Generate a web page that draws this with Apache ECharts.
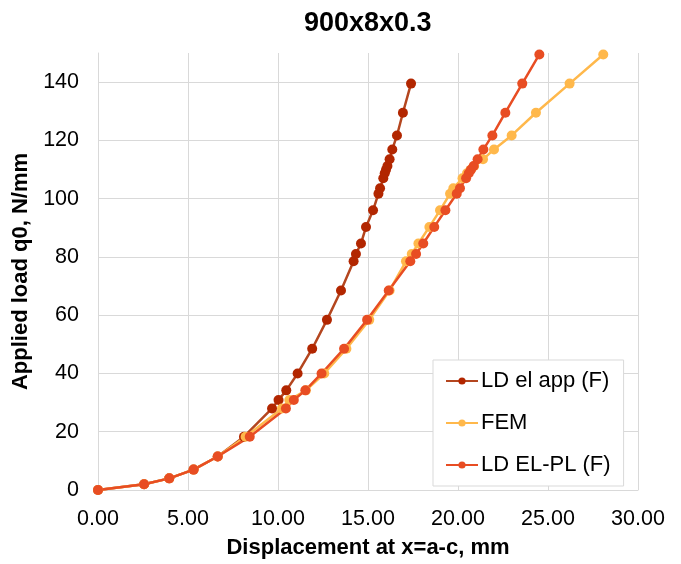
<!DOCTYPE html>
<html>
<head>
<meta charset="utf-8">
<script src="https://cdn.jsdelivr.net/npm/echarts@6/dist/echarts.min.js"></script>
<style>
html,body{margin:0;padding:0;background:#fff;}
#c{width:681px;height:564px;}
</style>
</head>
<body>
<div id="c"></div>
<script>
// Applied load q0 (N/mm) levels shared by the three series
const loads = [0, 2, 4, 7, 11.5, 18.3, 28, 30.9, 34.2, 40, 48.5, 58.4, 68.5, 78.5, 81, 84.6, 90.3, 96, 101.7, 103.6, 107, 108.7, 109.9, 111.2, 113.5, 116.9, 121.7, 129.5, 139.5, 149.5];
// Displacement at x=a-c (mm)
const ldElApp = [0, 2.56, 3.96, 5.31, 6.65, 8.11, 9.67, 10.03, 10.46, 11.09, 11.9, 12.72, 13.5, 14.2, 14.33, 14.61, 14.89, 15.28, 15.58, 15.67, 15.85, 15.93, 16.0, 16.08, 16.2, 16.35, 16.61, 16.94, 17.39];
const fem     = [0, 2.56, 3.96, 5.31, 6.65, 8.2, 10.22, 10.63, 11.55, 12.57, 13.8, 15.07, 16.2, 17.11, 17.43, 17.8, 18.41, 19.0, 19.56, 19.74, 20.25, 20.5, 20.7, 20.9, 21.39, 22.0, 22.98, 24.33, 26.2, 28.07];
const ldElPl  = [0, 2.56, 3.96, 5.31, 6.65, 8.43, 10.44, 10.88, 11.52, 12.42, 13.67, 14.95, 16.15, 17.35, 17.67, 18.07, 18.68, 19.3, 19.93, 20.11, 20.45, 20.6, 20.72, 20.87, 21.09, 21.41, 21.91, 22.63, 23.57, 24.52];
const seriesNames = ['LD el app (F)', 'FEM', 'LD EL-PL (F)'];
const xTicks = [0, 5, 10, 15, 20, 25, 30];
const yTicks = [0, 20, 40, 60, 80, 100, 120, 140];

function pairs(xs) { return xs.map((x, i) => [x, loads[i]]); }

const FONT = '"Liberation Sans", Arial, sans-serif';
const chart = echarts.init(document.getElementById('c'), null, {renderer: 'canvas'});

function mk(name, xs, lineColor, markColor) {
  return {
    name: name,
    type: 'line',
    data: pairs(xs),
    symbol: 'circle',
    symbolSize: 10,
    showSymbol: true,
    lineStyle: {color: lineColor, width: 2.5},
    itemStyle: {color: markColor},
    emphasis: {disabled: true},
    animation: false
  };
}

chart.setOption({
  backgroundColor: '#fff',
  animation: false,
  title: {
    text: '900x8x0.3',
    left: 304,
    top: 10,
    padding: 0,
    textStyle: {fontFamily: FONT, fontSize: 27, fontWeight: 'bold', color: '#000'}
  },
  grid: {left: 98, right: 43, top: 53, bottom: 71, containLabel: false},
  legend: {
    orient: 'vertical',
    left: 433,
    top: 360,
    backgroundColor: '#fff',
    borderColor: '#D9D9D9',
    borderWidth: 1,
    padding: [10, 13, 10, 12],
    itemGap: 20,
    itemWidth: 32,
    itemHeight: 9,
    data: seriesNames,
    textStyle: {fontFamily: FONT, fontSize: 22, color: '#000', padding: [0, 0, 0, -2]}
  },
  xAxis: {
    type: 'value',
    min: xTicks[0],
    max: xTicks[xTicks.length - 1],
    interval: xTicks[1] - xTicks[0],
    name: 'Displacement at x=a-c, mm',
    nameLocation: 'middle',
    nameGap: 47,
    nameTextStyle: {fontFamily: FONT, fontSize: 22, fontWeight: 'bold', color: '#000'},
    axisLine: {show: true, lineStyle: {color: '#D9D9D9', width: 1}},
    axisTick: {show: false},
    axisLabel: {fontFamily: FONT, fontSize: 21.5, color: '#000', margin: 18, formatter: v => v.toFixed(2)},
    splitLine: {show: true, lineStyle: {color: '#D9D9D9', width: 1}}
  },
  yAxis: {
    type: 'value',
    min: yTicks[0],
    max: 150,
    interval: yTicks[1] - yTicks[0],
    name: 'Applied load q0, N/mm',
    nameLocation: 'middle',
    nameRotate: 90,
    nameGap: 58,
    nameTextStyle: {fontFamily: FONT, fontSize: 22, fontWeight: 'bold', color: '#000'},
    axisLine: {show: true, lineStyle: {color: '#D9D9D9', width: 1}},
    axisTick: {show: false},
    axisLabel: {fontFamily: FONT, fontSize: 21.5, color: '#000', margin: 19, showMaxLabel: false},
    splitLine: {show: true, showMaxLine: false, lineStyle: {color: '#D9D9D9', width: 1}}
  },
  series: [
    mk(seriesNames[0], ldElApp, '#B4461F', '#B22600'),
    mk(seriesNames[1], fem, '#FFB84B', '#FFB84B'),
    mk(seriesNames[2], ldElPl, '#E84D23', '#E84D23')
  ]
});
</script>
</body>
</html>
